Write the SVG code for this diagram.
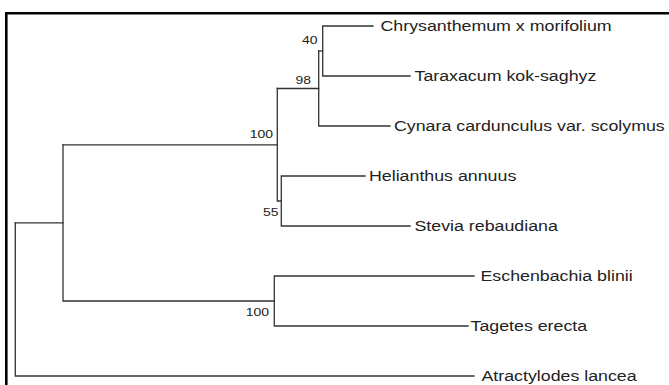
<svg xmlns="http://www.w3.org/2000/svg" width="669" height="385" viewBox="0 0 669 385">
<style>
.frame{fill:none;stroke:#000;stroke-width:2.6}
.br{fill:none;stroke:#333;stroke-width:1.3;stroke-linecap:square}
.sp{font-family:"Liberation Sans",Arial,sans-serif;font-size:14px;fill:#222}
.bs{font-family:"Liberation Sans",Arial,sans-serif;font-size:11px;fill:#222;text-anchor:end}
</style>
<rect width="669" height="385" fill="#fff"/>
<path class="frame" d="M6.3,385 V13.2 H669"/>
<g id="connectors">
<path class="br" d="M322.7,26 V76 M322.7,26 H373 M322.7,76 H410"/>
<path class="br" d="M318.7,51 H322.7"/>
<path class="br" d="M318.7,51 V126 H390"/>
<path class="br" d="M277.3,88.5 H318.7"/>
<path class="br" d="M277.3,88.5 V201 H281.3"/>
<path class="br" d="M281.3,176 V226 M281.3,176 H365 M281.3,226 H410"/>
<path class="br" d="M63,144.8 H277.3"/>
<path class="br" d="M63,144.8 V301 H274.3"/>
<path class="br" d="M274.3,276 V326 M274.3,276 H474 M274.3,326 H468"/>
<path class="br" d="M15.3,222.9 H63"/>
<path class="br" d="M15.3,222.9 V376 H474"/>
</g>
<g id="leaf-chrysanthemum"><text class="sp" transform="translate(380.5,31) scale(1.27,1)">Chrysanthemum x morifolium</text></g>
<g id="leaf-taraxacum"><text class="sp" transform="translate(414.5,81) scale(1.27,1)">Taraxacum kok-saghyz</text></g>
<g id="leaf-cynara"><text class="sp" transform="translate(394,131) scale(1.27,1)">Cynara cardunculus var. scolymus</text></g>
<g id="leaf-helianthus"><text class="sp" transform="translate(369,181) scale(1.27,1)">Helianthus annuus</text></g>
<g id="leaf-stevia"><text class="sp" transform="translate(414.5,231) scale(1.27,1)">Stevia rebaudiana</text></g>
<g id="leaf-eschenbachia"><text class="sp" transform="translate(480.5,281) scale(1.27,1)">Eschenbachia blinii</text></g>
<g id="leaf-tagetes"><text class="sp" transform="translate(470.5,331) scale(1.27,1)">Tagetes erecta</text></g>
<g id="leaf-atractylodes"><text class="sp" transform="translate(481.5,381) scale(1.27,1)">Atractylodes lancea</text></g>
<g id="node-40"><text class="bs" transform="translate(317.5,44) scale(1.27,1)">40</text></g>
<g id="node-98"><text class="bs" transform="translate(311,84) scale(1.27,1)">98</text></g>
<g id="node-100a"><text class="bs" transform="translate(273,137.5) scale(1.27,1)">100</text></g>
<g id="node-55"><text class="bs" transform="translate(278.5,216) scale(1.27,1)">55</text></g>
<g id="node-100b"><text class="bs" transform="translate(269,316) scale(1.27,1)">100</text></g>
</svg>
